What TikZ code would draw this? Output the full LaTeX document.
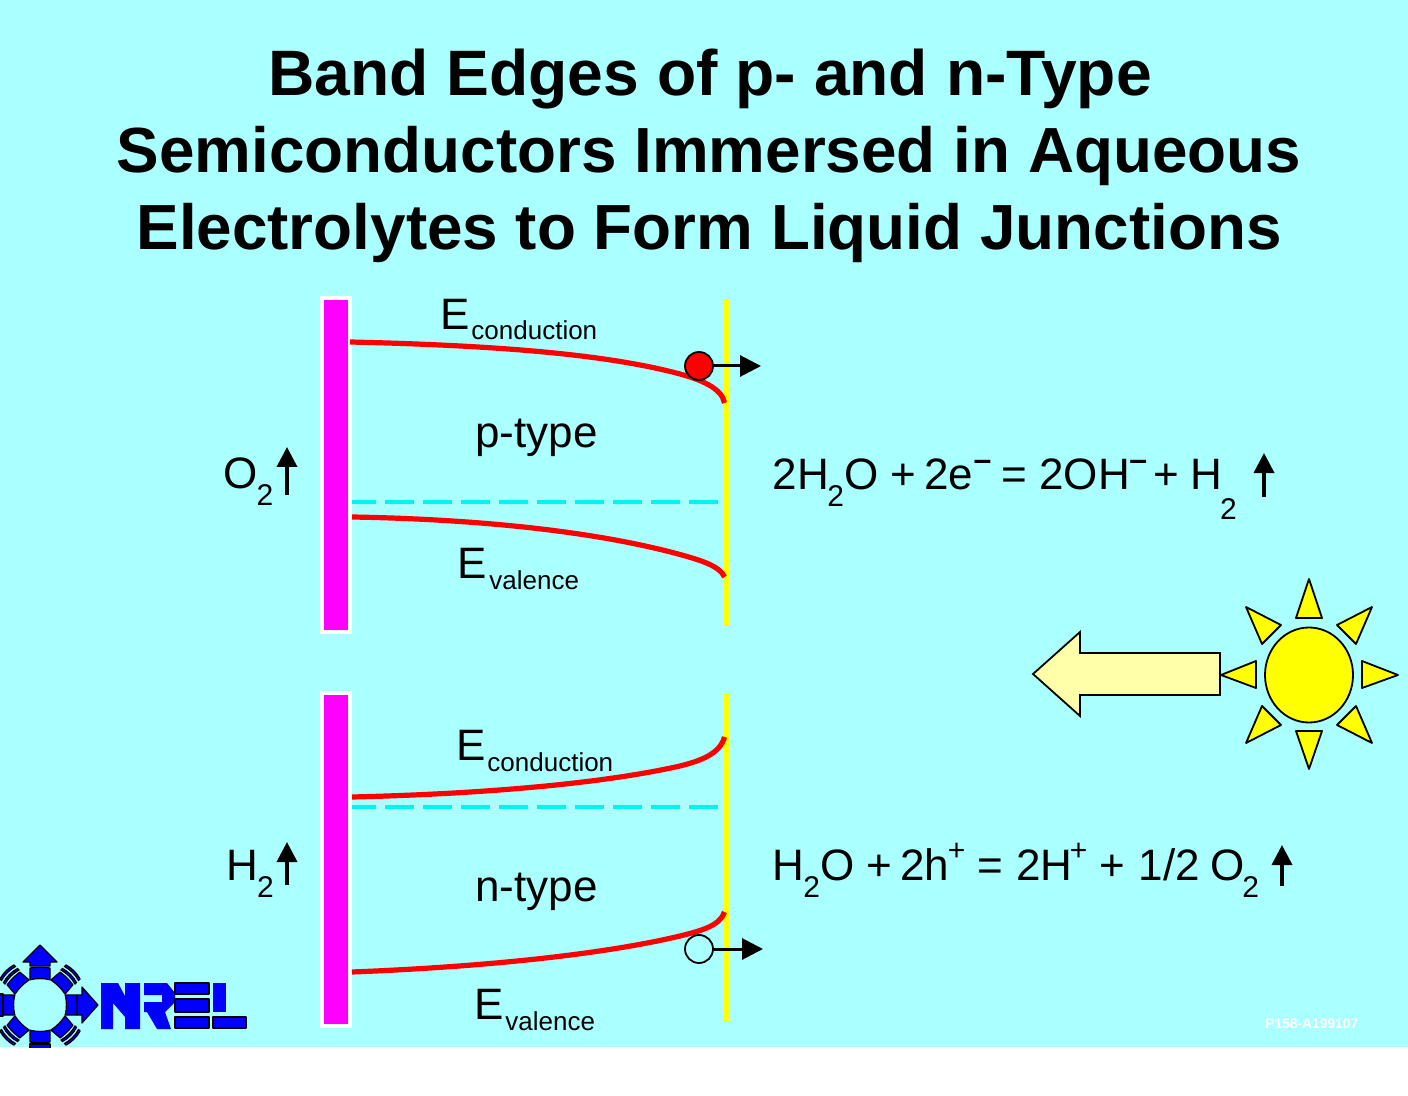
\documentclass[tikz,border=0pt]{standalone}
\usepackage{fontspec}
\setmainfont{Liberation Sans}
\usetikzlibrary{arrows.meta}
\definecolor{bgc}{HTML}{AAFFFF}
\definecolor{mag}{HTML}{FF00FF}
\definecolor{yel}{HTML}{FFFF00}
\definecolor{dash}{HTML}{00F4F4}
\definecolor{pale}{HTML}{FFFFAA}
\definecolor{logob}{HTML}{0000FF}
\newcommand{\pk}[1]{\kern#1\dimexpr0.5pt\relax}
\newcommand{\sbs}[1]{\raisebox{-8.5pt}{\fontsize{15}{15}\selectfont #1}}
\newcommand{\sbl}[1]{\raisebox{-15pt}{\fontsize{15}{15}\selectfont #1}}
\newcommand{\spp}[1]{\raisebox{10pt}{\fontsize{15}{15}\selectfont #1}}
\newcommand{\spm}{\raisebox{9.2pt}{\fontsize{16}{16}\selectfont\bfseries\textendash}}
\newcommand{\lab}[1]{\fontsize{22}{27}\selectfont #1}
\newcommand{\elab}[3]{\lab{E}\pk{#1}\raisebox{-#2pt}{\fontsize{13}{13}\selectfont #3}}
\tikzset{
 x=0.5pt,y=-0.5pt,
 titlenode/.style={font=\fontsize{31.9}{38}\selectfont\bfseries,anchor=base,inner sep=0},
 labnode/.style={anchor=base west,inner sep=0},
 bandcurve/.style={draw=red,line width=2.6pt},
 fermi/.style={draw=dash,line width=2pt,dash pattern=on 14.5pt off 4.5pt,dash phase=2.5pt},
 electrode/.style={fill=mag,draw=white,line width=2.2pt},
 wall/.style={fill=yel},
 ray/.style={fill=yel,draw=black,line width=0.9pt,line join=round},
 upar/.style={draw=black,line width=1.8pt,-{Triangle[length=10pt,width=10pt]}},
 outar/.style={draw=black,line width=1.5pt,-{Triangle[length=10.5pt,width=10.5pt]}},
 carrier/.style={circle,draw=black,line width=0.9pt,minimum size=14pt,inner sep=0},
 lg/.style={fill=logob,draw=black,line width=0.6pt,line join=round},
 lgn/.style={fill=logob},
}
\begin{document}
\begin{tikzpicture}
\useasboundingbox (0,0) rectangle (1408,1096);
\fill[white] (0,0) rectangle (1408,1096);
\fill[bgc] (0,0) rectangle (1408,1047);
% title
\node[titlenode,font=\fontsize{32.1}{38}\selectfont\bfseries] (t1) at (710,96) {Band Edges of p- and n-Type};
\node[titlenode] (t2) at (709,173) {Semiconductors Immersed in Aqueous};
\node[titlenode] (t3) at (709,250) {Electrolytes to Form Liquid Junctions};
% upper cell
\draw[electrode] (322,298) rectangle (350,632);
\fill[wall] (724,299) rectangle (729,626);
\draw[fermi] (352,502) -- (720,502);
\draw[bandcurve] (350,342) .. controls (480,345) and (600,352.5) .. (680,374) .. controls (700,379.5) and (722,388) .. (724.5,403);
\draw[bandcurve] (352,517) .. controls (470,519) and (590,530) .. (680,554.5) .. controls (700,560) and (720,566) .. (724.5,577);
\node[carrier,fill=red] (ec) at (699,366) {};
\coordinate (ect) at (761,366);
\draw[outar] (ec) -- (ect);
% lower cell
\draw[electrode] (322,693) rectangle (350,1026);
\fill[wall] (724,694) rectangle (729,1021);
\draw[fermi] (352,806.5) -- (720,806.5);
\draw[bandcurve] (352,797) .. controls (480,794) and (600,784) .. (680,766) .. controls (700,761) and (720,754) .. (724.5,737);
\draw[bandcurve] (352,972) .. controls (480,967) and (600,955) .. (680,936) .. controls (700,931) and (720,926) .. (724.5,912);
\node[carrier,fill=bgc] (hc) at (699,949) {};
\coordinate (hct) at (763,949);
\draw[outar] (hc) -- (hct);
% band labels
\node[labnode] (e1) at (440,330) {\elab{1.7}{5}{conduction}};
\node[labnode] (p) at (475,448) {\lab{p-type}};
\node[labnode] (e2) at (457,578) {\elab{2.7}{5.5}{valence}};
\node[labnode] (e3) at (456,760) {\elab{1.7}{5.5}{conduction}};
\node[labnode] (n) at (475,901) {\lab{n-type}};
\node[labnode] (e4) at (474,1019) {\elab{1.7}{5.5}{valence}};
% side labels
\node[labnode] (o2) at (223,488) {\lab{O\pk{-1}\sbs{2}}};
\coordinate (o2a) at (287,495); \coordinate (o2b) at (287,447);
\draw[upar] (o2a) -- (o2b);
\node[labnode] (h2) at (226,880) {\lab{H\pk{-1}\sbs{2}}};
\coordinate (h2a) at (287,885); \coordinate (h2b) at (287,842);
\draw[upar] (h2a) -- (h2b);
% equations
\node[labnode] (eqa) at (772.5,489) {\lab{2H\pk{-1.8}\sbs{2}\pk{0.8}O\pk{11.8}+\pk{8}2e\spm\pk{10.7}=\pk{11.8}2OH\pk{-0.5}\spm\pk{6.2}+\pk{11.8}H\pk{-2.5}\sbl{2}}};
\coordinate (eqa1) at (1264,497); \coordinate (eqa2) at (1264,453);
\draw[upar] (eqa1) -- (eqa2);
\node[labnode] (eqb) at (772,880) {\lab{H\pk{-0.8}\sbs{2}\pk{0.3}O\pk{11.8}+\pk{8.3}2h\pk{-1.5}\spp{+}\pk{12.5}=\pk{12.8}2H\pk{-2.8}\spp{+}\pk{12}+\pk{13.8}1/2\pk{10.3}O\pk{-2.2}\sbs{2}}};
\coordinate (eqb1) at (1282,886); \coordinate (eqb2) at (1282,845);
\draw[upar] (eqb1) -- (eqb2);
% big arrow
\draw[fill=pale,draw=black,line width=0.9pt,line join=miter]
 (1033,674) -- (1080,632) -- (1080,653) -- (1220,653) -- (1220,695) -- (1080,695) -- (1080,716) -- cycle;
% sun
\draw[fill=yel,draw=black,line width=0.9pt] (1309,675) ellipse [x radius=44,y radius=47.5];
\draw[ray] (1309,579) -- (1322,618) -- (1296,618) -- cycle;
\draw[ray] (1309,769) -- (1322,731) -- (1296,731) -- cycle;
\draw[ray] (1398,675) -- (1362,661) -- (1362,688) -- cycle;
\draw[ray] (1221,675) -- (1256,661) -- (1256,688) -- cycle;
\draw[ray] (1372,607) -- (1337,625) -- (1356,644) -- cycle;
\draw[ray] (1246,607) -- (1281,625) -- (1262,644) -- cycle;
\draw[ray] (1372,743) -- (1337,725) -- (1356,706) -- cycle;
\draw[ray] (1246,743) -- (1281,725) -- (1262,706) -- cycle;
% logo
\begin{scope}
\clip (0,930) rectangle (260,1047);
\foreach \a in {0,90,180,270}{
 \begin{scope}[shift={(40,1005)},rotate=\a]
 \draw[lg] (25.2,-10) -- (37,-10) .. controls (38,-4) and (38,4) .. (37,10) -- (25.2,10) .. controls (26.8,3.5) and (26.8,-3.5) .. (25.2,-10) -- cycle;
 \end{scope}
}
\foreach \a in {45,135,225,315}{
 \begin{scope}[shift={(40,1005)},rotate=\a]
 \draw[lg] (25.4,-10) -- (37.5,-9) .. controls (38.5,-3) and (38.5,3) .. (37.5,9) -- (25.4,10) .. controls (26.8,3) and (26.8,-3) .. (25.4,-10) -- cycle;
 \draw[lg] (39.5,-10) .. controls (41.5,-3.5) and (41.5,3.5) .. (39.5,10) -- (41.7,10) .. controls (43.7,3.5) and (43.7,-3.5) .. (41.7,-10) -- cycle;
 \draw[lg] (44.5,-10) .. controls (46.5,-3.5) and (46.5,3.5) .. (44.5,10) -- (46.7,10) .. controls (48.7,3.5) and (48.7,-3.5) .. (46.7,-10) -- cycle;
 \end{scope}
}
\draw[lg] (30,966) -- (30,962) -- (23,962) -- (40,945) -- (57,962) -- (50,962) -- (50,966) -- cycle;
\draw[lg] (77,995) -- (82,995) -- (82,987) -- (98,1005) -- (82,1023) -- (82,1015) -- (77,1015) -- cycle;
\draw[lg] (30,1044) rectangle (50,1050);
\draw[lg] (-2,994) rectangle (3,1016);
\end{scope}
\fill[lgn] (101,983) -- (118,983) -- (125,996) -- (125,983) -- (140,983) -- (140,1029) -- (125,1029) -- (125,1017) -- (113,1003) -- (113,1029) -- (101,1029) -- cycle;
\fill[lgn] (144,983) -- (167,983) -- (175,993) -- (175,1002) -- (165,1012) -- (171,1029) -- (157,1029) -- (147,1012) -- (144,1012) -- (144,1002) -- (162,1002) -- (162,995) -- (144,995) -- cycle;
\draw[lg] (175,983) rectangle (209,994);
\draw[lg] (175,999) rectangle (209,1012);
\draw[lg] (175,1017) rectangle (209,1028);
\fill[lgn] (213,983) rectangle (226,1012);
\draw[lg] (213,1017) rectangle (246,1028);
\node[labnode,text=white] (code) at (1265,1028) {\fontsize{6.9}{7}\selectfont\bfseries P158-A199107};
\end{tikzpicture}
\end{document}
